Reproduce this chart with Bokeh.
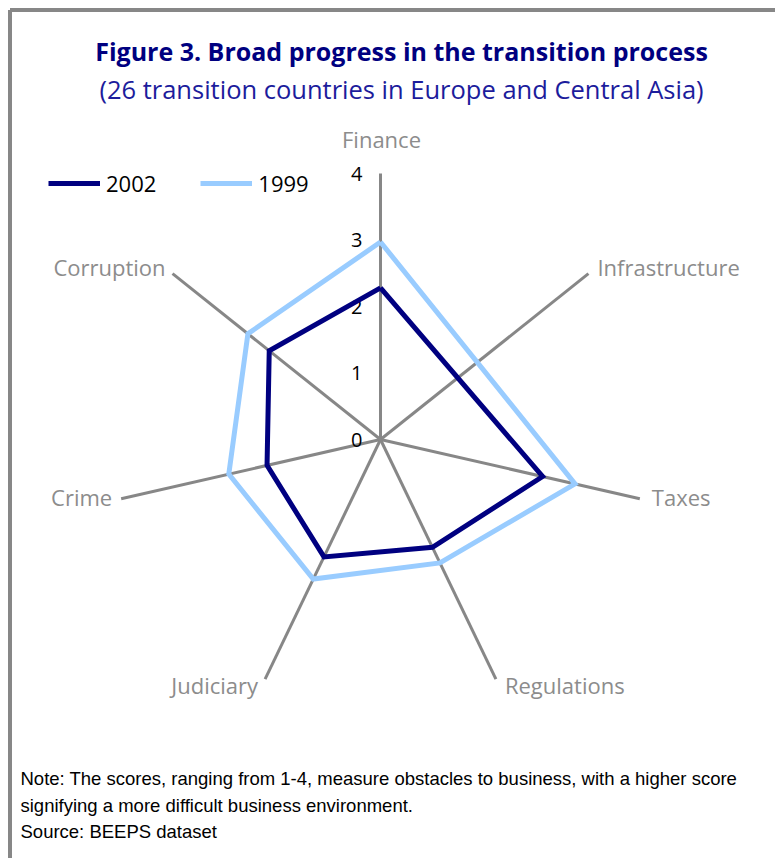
import math
from bokeh.plotting import figure
from bokeh.models import Range1d, Legend, LegendItem
from bokeh.core.properties import value
from bokeh.embed import file_html
from bokeh.resources import INLINE

# ---- data ----
categories = ["Finance", "Infrastructure", "Taxes", "Regulations", "Judiciary", "Crime", "Corruption"]
scores_2002 = [2.28, None, 2.50, 1.80, 1.96, 1.75, 2.14]
scores_1999 = [2.97, None, 3.00, 2.06, 2.33, 2.34, 2.55]
series_names = ["2002", "1999"]
tick_values = [0, 1, 2, 3, 4]
tick_labels = ["0", "1", "2", "3", "4"]
r_max = 4

title_text = "Figure 3. Broad progress in the transition process"
subtitle_text = "(26 transition countries in Europe and Central Asia)"
note_lines = [
    "Note: The scores, ranging from 1-4, measure obstacles to business, with a higher score",
    "signifying a more difficult business environment.",
    "Source: BEEPS dataset",
]

# ---- geometry (canvas pixels) ----
W, H = 775, 858
CX, CY = 380, 439        # radar centre on canvas
U = 66.5                 # pixels per score unit


def px(page_x):
    return (page_x - CX) / U


def py(page_y):
    return (CY - page_y) / U


n = len(categories)
angles = [math.pi / 2 - 2 * math.pi * i / n for i in range(n)]

p = figure(width=W, height=H, output_backend="svg", toolbar_location=None,
           x_range=Range1d(-CX / U, (W - CX) / U),
           y_range=Range1d(-(H - CY) / U, CY / U),
           min_border=0, border_fill_color="white", background_fill_color="white")
p.axis.visible = False
p.grid.visible = False
p.outline_line_color = None

# frame border (left and top)
p.segment(x0=[px(9.5), px(9.5)], y0=[py(9.5), py(9.5)], x1=[px(9.5), px(820)], y1=[py(900), py(9.5)],
          line_color="#878787", line_width=4)

# spokes
axis_color = "#878787"
p.segment(x0=[0] * n, y0=[0] * n,
          x1=[r_max * math.cos(a) for a in angles],
          y1=[r_max * math.sin(a) for a in angles],
          line_color=axis_color, line_width=3)

# series polygons (missing values are skipped and the line connects neighbours)
def poly(vals):
    xs, ys = [], []
    for v, a in zip(vals, angles):
        if v is None:
            continue
        xs.append(v * math.cos(a))
        ys.append(v * math.sin(a))
    xs.append(xs[0])
    ys.append(ys[0])
    return xs, ys

colors = ["#000080", "#99ccff"]
renderers = []
for vals, col in zip([scores_2002, scores_1999], colors):
    xs, ys = poly(vals)
    r = p.line(xs, ys, line_color=col, line_width=5, line_join="miter")
    renderers.append(r)
renderers[0].level = "overlay"

# tick labels along Finance axis
p.text(x=[0] * len(tick_values), y=tick_values, text=tick_labels,
       x_offset=-18, text_align="right", text_baseline="middle",
       text_font=value("Open Sans"), text_font_size="20px", text_color="#000000")

# category labels
label_font = value("Open Sans")
label_specs = [  # (dx, dy pixel offset from spoke end, align)
    (1, -35, "center"), (9, -7, "left"), (12, -2, "left"), (9, 6, "left"),
    (-7, 6, "right"), (-9, -2, "right"), (-7, -7, "right"),
]
for cat, a, (dx, dy, al) in zip(categories, angles, label_specs):
    p.text(x=[r_max * math.cos(a)], y=[r_max * math.sin(a)], text=[cat],
           x_offset=dx, y_offset=dy, text_align=al, text_baseline="middle",
           text_font=label_font, text_font_size="22px", text_color="#8c8c8c")

# titles
p.text(x=[px(401)], y=[py(50)], text=[title_text], text_align="center", text_baseline="middle",
       text_font=value("Open Sans"), text_font_style="bold", text_font_size="25px",
       text_color="#000080")
p.text(x=[px(401)], y=[py(88)], text=[subtitle_text], text_align="center", text_baseline="middle",
       text_font=value("Open Sans"), text_font_size="25.5px", text_color="#1c1c9c")

# notes
for i, line in enumerate(note_lines):
    p.text(x=[px(20)], y=[py(778 + 26.5 * i)], text=[line], text_align="left", text_baseline="middle",
           text_font=value("Liberation Sans"), text_font_size="18.5px", text_color="#000000")

# legend
legend = Legend(items=[LegendItem(label=s, renderers=[r]) for s, r in zip(series_names, renderers)],
                orientation="horizontal", location=(48, H - 198),
                glyph_width=52, glyph_height=22, label_height=22, label_standoff=6,
                spacing=44, padding=0, margin=0,
                label_text_font="Open Sans", label_text_font_size="22px",
                label_text_color="#000000", border_line_color=None,
                background_fill_alpha=0)
p.add_layout(legend)

open("out.html", "w").write(file_html(p, INLINE))
